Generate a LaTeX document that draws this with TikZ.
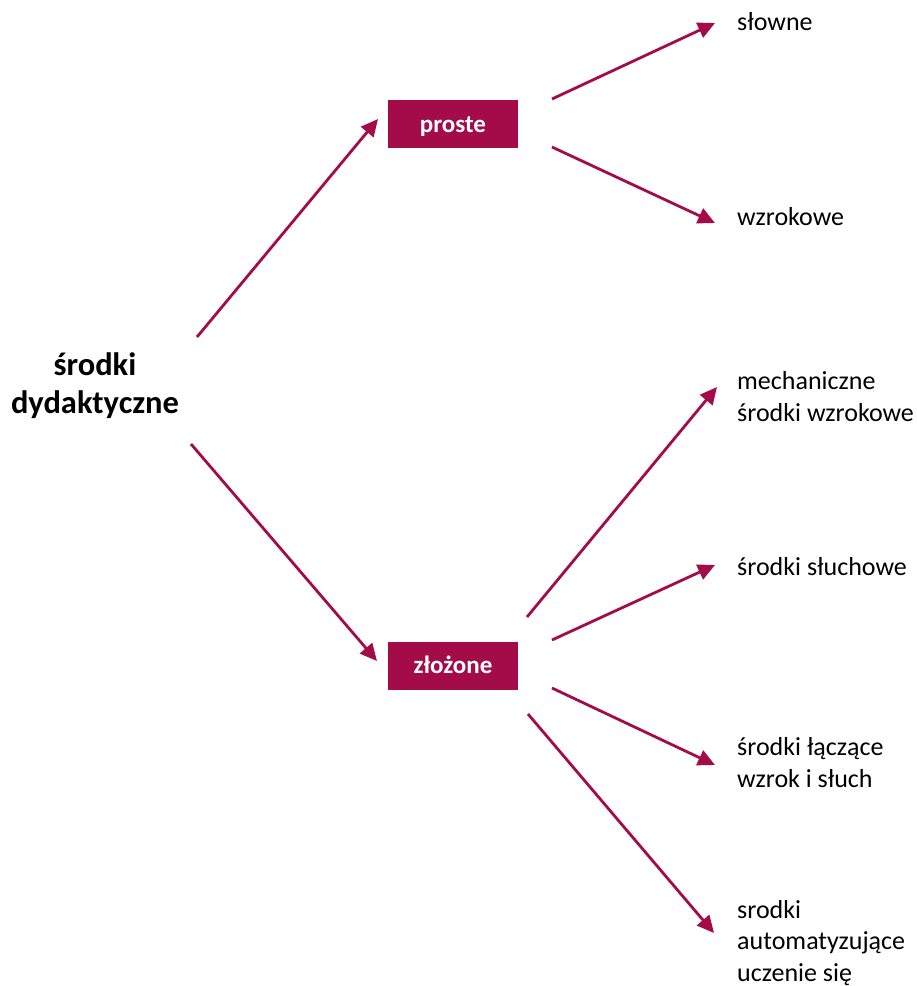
\documentclass[tikz,border=0pt]{standalone}
\usepackage{fontspec}
\setmainfont{Carlito}
\usetikzlibrary{arrows.meta}
\definecolor{wine}{RGB}{163,12,72}
\tikzset{
  conn/.style={draw=wine, line width=2.8pt, -{Triangle[length=17pt,width=16pt]}},
  box/.style={fill=wine, text=white, minimum width=130pt, minimum height=48pt, inner sep=0pt, text height=18pt, text depth=2pt, font=\fontsize{25}{30}\selectfont\bfseries},
  leaf/.style={anchor=base west, inner sep=0pt, align=left, font=\fontsize{26}{31.5}\selectfont},
  rootlbl/.style={anchor=base, inner sep=0pt, align=center, font=\fontsize{32.5}{38}\selectfont\bfseries}
}
\begin{document}
\begin{tikzpicture}[x=1pt,y=-1pt]
\useasboundingbox (0,0) rectangle (917,986);
\node[rootlbl] (root) at (95,413) {środki\\dydaktyczne};
\node[box] (proste) at (453,124) {proste};
\node[box] (zlozone) at (453,665.5) {złożone};
\node[leaf] (slowne) at (737,30) {słowne};
\node[leaf] (wzrokowe) at (737,225) {wzrokowe};
\node[leaf] (mech) at (737,421) {mechaniczne\\środki wzrokowe};
\node[leaf] (sluch) at (737,575) {środki słuchowe};
\node[leaf] (lacz) at (737,787) {środki łączące\\wzrok i słuch};
\node[leaf] (auto) at (737,981) {srodki\\automatyzujące\\uczenie się};
% connector ends
\coordinate (r1) at (197,337);
\coordinate (r2) at (191,444);
\coordinate (p1) at (378,119);
\coordinate (z1) at (377,661);
\coordinate (ps) at (552,99);
\coordinate (pw) at (552,147);
\coordinate (s1) at (715,23);
\coordinate (w1) at (715,223);
\coordinate (za) at (527,617);
\coordinate (zb) at (552,640);
\coordinate (zc) at (552,688);
\coordinate (zd) at (528,714);
\coordinate (m1) at (717,387);
\coordinate (h1) at (715,565);
\coordinate (l1) at (715,765);
\coordinate (a1) at (714,933);
\draw[conn] (r1) -- (p1);
\draw[conn] (r2) -- (z1);
\draw[conn] (ps) -- (s1);
\draw[conn] (pw) -- (w1);
\draw[conn] (za) -- (m1);
\draw[conn] (zb) -- (h1);
\draw[conn] (zc) -- (l1);
\draw[conn] (zd) -- (a1);
\end{tikzpicture}
\end{document}
